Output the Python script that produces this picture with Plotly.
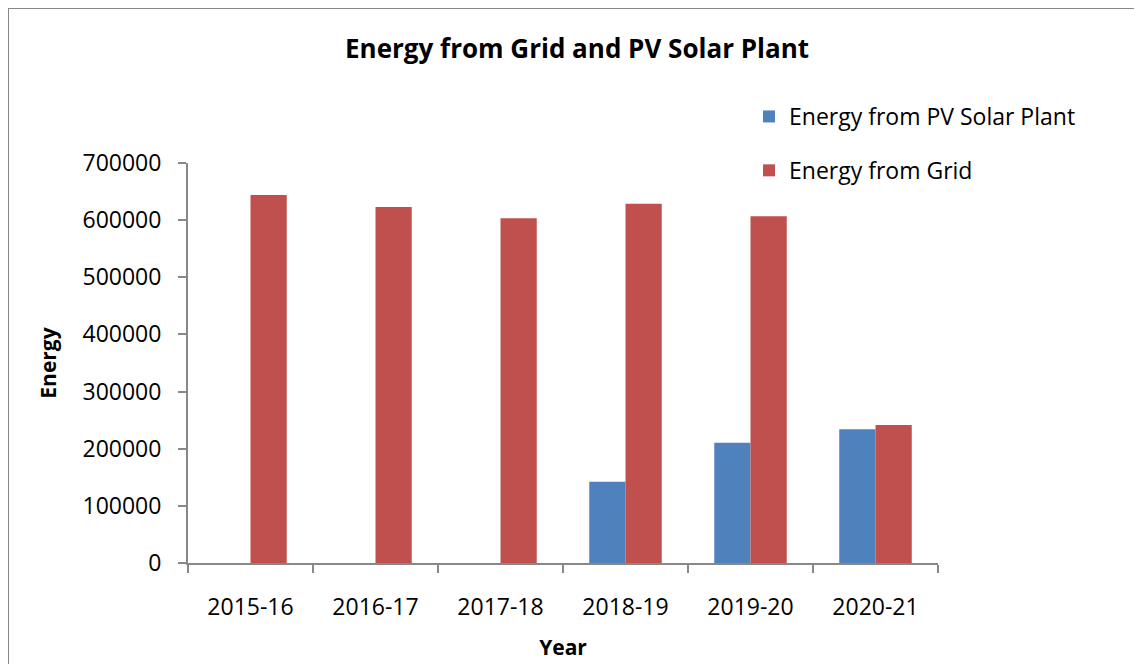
import plotly.graph_objects as go

years = ["2015-16", "2016-17", "2017-18", "2018-19", "2019-20", "2020-21"]
pv_energy = [None, None, None, 142000, 210500, 234000]
grid_energy = [644000, 623000, 603500, 628500, 607000, 241500]

font_family = "'Open Sans', Lato, sans-serif"
axis_grey = "#888888"

fig = go.Figure()
fig.add_trace(go.Bar(
    x=years, y=pv_energy, name="Energy from PV Solar Plant",
    marker=dict(color="#4F81BD", line=dict(width=0)), legendgroup="pv",
))
fig.add_trace(go.Bar(
    x=years, y=grid_energy, name="Energy from Grid",
    marker=dict(color="#C0504D", line=dict(width=0)), legendgroup="grid",
))

# page body adds 8px offset, so the figure is 8px smaller than the window
fig.update_layout(
    width=1134, height=656,
    margin=dict(l=180, r=204, t=155, b=101),
    paper_bgcolor="white", plot_bgcolor="white",
    font=dict(family=font_family, size=22, color="black"),
    barmode="group", bargap=0.42, bargroupgap=0,
    title=dict(text="<b>Energy from Grid and PV Solar Plant</b>",
               x=0.5018, xanchor="center", y=0.938, yanchor="middle",
               font=dict(size=26, family=font_family)),
    legend=dict(x=0.748, y=1.17, xanchor="left", yanchor="top",
                tracegroupgap=21, font=dict(size=23),
                bgcolor="rgba(0,0,0,0)", itemwidth=30),
    showlegend=True,
)

fig.update_xaxes(
    type="category", showline=True, linecolor=axis_grey, linewidth=2,
    ticks="outside", tickson="boundaries", ticklen=8, tickcolor=axis_grey,
    tickwidth=2, showgrid=False, tickfont=dict(size=23), ticklabelstandoff=22,
    automargin=False,
    title=dict(text="<b>Year</b>", font=dict(size=21), standoff=20),
)
fig.update_yaxes(
    range=[0, 700000], dtick=100000, tickformat="d",
    showline=True, linecolor=axis_grey, linewidth=2,
    ticks="outside", ticklen=8, tickcolor=axis_grey, tickwidth=2,
    showgrid=False, zeroline=False, tickfont=dict(size=23), ticklabelstandoff=12,
    automargin=False,
    title=dict(text="<b>Energy</b>", font=dict(size=21), standoff=20),
)

# outer chart frame (top and left edges visible in the original)
fig.add_shape(type="rect", xref="paper", yref="paper",
              x0=(0 - 180) / 750, x1=(1150 - 180) / 750,
              y0=(555 - 680) / 400, y1=(555 - 0) / 400,
              line=dict(color=axis_grey, width=2), layer="below")

fig.write_html("out.html")
